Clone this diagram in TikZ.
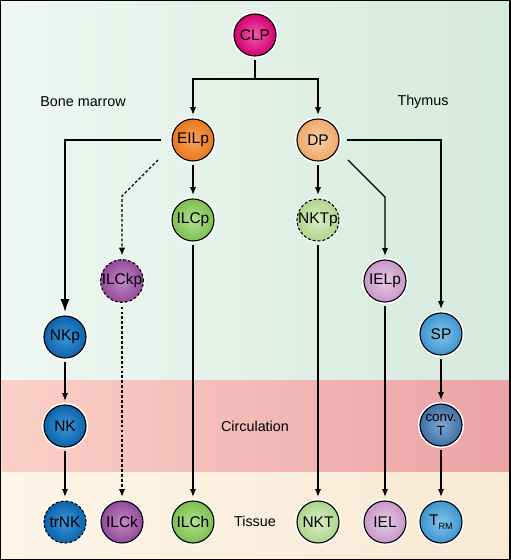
\documentclass[tikz,border=0pt]{standalone}
\usepackage{fontspec}
\setmainfont{Liberation Sans}
\usepackage{xcolor}
\usepackage{tikz}
\usetikzlibrary{arrows.meta}
\usetikzlibrary{positioning}
\tikzset{>={Latex[length=5.5pt,width=4.5pt]}}
\definecolor{bmL}{HTML}{EFF7F2}
\definecolor{bmR}{HTML}{D5EADE}
\definecolor{ciL}{HTML}{FAD1C7}
\definecolor{ciR}{HTML}{EBA2A5}
\definecolor{tiL}{HTML}{FDF5E7}
\definecolor{tiR}{HTML}{F8EAD3}
\definecolor{clpO}{HTML}{D4006F}
\definecolor{clpI}{HTML}{F25AAE}
\definecolor{eilO}{HTML}{E8781F}
\definecolor{eilI}{HTML}{F6A35A}
\definecolor{dpO}{HTML}{EDA767}
\definecolor{dpI}{HTML}{F8D2AA}
\definecolor{ilcO}{HTML}{7DBF4F}
\definecolor{ilcI}{HTML}{B6DF92}
\definecolor{nktO}{HTML}{ADD58C}
\definecolor{nktI}{HTML}{DAEDC6}
\definecolor{ilkO}{HTML}{934A99}
\definecolor{ilkI}{HTML}{C28AC5}
\definecolor{ielO}{HTML}{C897C6}
\definecolor{ielI}{HTML}{E8CCE6}
\definecolor{nkO}{HTML}{0B63AD}
\definecolor{nkI}{HTML}{3D96D6}
\definecolor{spO}{HTML}{3D95CF}
\definecolor{spI}{HTML}{84C3EA}
\definecolor{ctO}{HTML}{3F6FA7}
\definecolor{ctI}{HTML}{82A8D2}
\tikzstyle{cell} = [circle, draw=black, line width=0.8pt, minimum size=1.05cm, inner sep=0, outer sep=3pt, font=\fontsize{11}{12}\selectfont, preaction={draw=white, line width=3pt}]
\tikzstyle{unsure} = [dash pattern=on 2pt off 1.5pt]
\tikzstyle{zone} = [draw=none, font=\fontsize{10.2}{12}\selectfont]
\tikzstyle{link} = [line width=0.8pt]

\begin{document}
\begin{tikzpicture}
\useasboundingbox (0,0) rectangle (12.75,14);
\shade [left color=bmL, right color=bmR] (0,4.475) rectangle (12.75,14);
\shade [left color=ciL, right color=ciR] (0,2.175) rectangle (12.75,4.475);
\shade [left color=tiL, right color=tiR] (0,0) rectangle (12.75,2.175);
\draw [line width=2pt] (0,0) rectangle (12.75,14);
%\node [zone] at (6.375,13.8) {Origin};
\node [zone] (BM) at (2.075,11.45) {Bone marrow};
\node [zone] (TH) at (10.575,11.45) {Thymus};
\node [zone] (CI) at (6.375,3.35) {Circulation};
\node [zone] (TI) at (6.375,0.975) {Tissue};
\node [cell, outer color=clpO, inner color=clpI] (CLP) at (6.375,13.125) {CLP};
\node [cell, outer color=eilO, inner color=eilI] (EILp) at (4.825,10.5) {EILp};
\node [cell, outer color=dpO, inner color=dpI] (DP) at (7.95,10.5) {DP};
\node [cell, outer color=ilcO, inner color=ilcI] (ILCp) at (4.825,8.5) {ILCp};
\node [cell, unsure, outer color=nktO, inner color=nktI] (NKTp) at (7.95,8.5) {NKTp};
\node [cell, unsure, outer color=ilkO, inner color=ilkI] (ILCkp) at (3.05,6.975) {ILCkp};
\node [cell, outer color=ielO, inner color=ielI] (IELp) at (9.625,6.975) {IELp};
\node [cell, outer color=nkO, inner color=nkI] (NKp) at (1.625,5.575) {NKp};
\node [cell, outer color=spO, inner color=spI] (SP) at (11.025,5.65) {SP};
\node [cell, outer color=nkO, inner color=nkI] (NK) at (1.625,3.35) {NK};
\node [cell, outer color=ctO, inner color=ctI, align=center, font=\fontsize{9.5}{9.5}\selectfont] (convT) at (11.025,3.375) {conv.\\T};
\node [cell, unsure, outer color=nkO, inner color=nkI] (trNK) at (1.625,0.95) {trNK};
\node [cell, outer color=ilkO, inner color=ilkI] (ILCk) at (3.05,0.95) {ILCk};
\node [cell, outer color=ilcO, inner color=ilcI] (ILCh) at (4.825,0.95) {ILCh};
\node [cell, outer color=nktO, inner color=nktI] (NKT) at (7.95,0.95) {NKT};
\node [cell, outer color=ielO, inner color=ielI] (IEL) at (9.625,0.95) {IEL};
\node [cell, outer color=spO, inner color=spI] (TRM) at (11.025,0.95) {T\raisebox{-0.5ex}{\fontsize{6.5}{6.5}\selectfont RM}};
\coordinate (S) at (6.375,12.025);
\coordinate (K0) at (3.95,10.0);
\coordinate (K1) at (3.05,9.1);
\coordinate (E0) at (8.7,10.0);
\coordinate (E1) at (9.625,9.075);
\draw [link] (CLP) -- (S);
\draw [link, ->] (S) -| (EILp);
\draw [link, ->] (S) -| (DP);
\draw [link, -{Latex[length=9pt,width=6.5pt]}, shorten <=5pt] (EILp) -| (NKp);
\draw [link, ->, shorten <=3pt] (DP) -| (SP);
\draw [link, unsure, ->] (K0) -- (K1) -- (ILCkp);
\draw [link, ->] (E0) -- (E1) -- (IELp);
\draw [link, ->] (EILp) -- (ILCp);
\draw [link, ->] (DP) -- (NKTp);
\draw [link, unsure, ->] (ILCkp) -- (ILCk);
\draw [link, ->] (ILCp) -- (ILCh);
\draw [link, ->] (NKTp) -- (NKT);
\draw [link, ->] (IELp) -- (IEL);
\draw [link, ->] (NKp) -- (NK);
\draw [link, ->] (NK) -- (trNK);
\draw [link, ->] (SP) -- (convT);
\draw [link, ->] (convT) -- (TRM);
\end{tikzpicture}
\end{document}
